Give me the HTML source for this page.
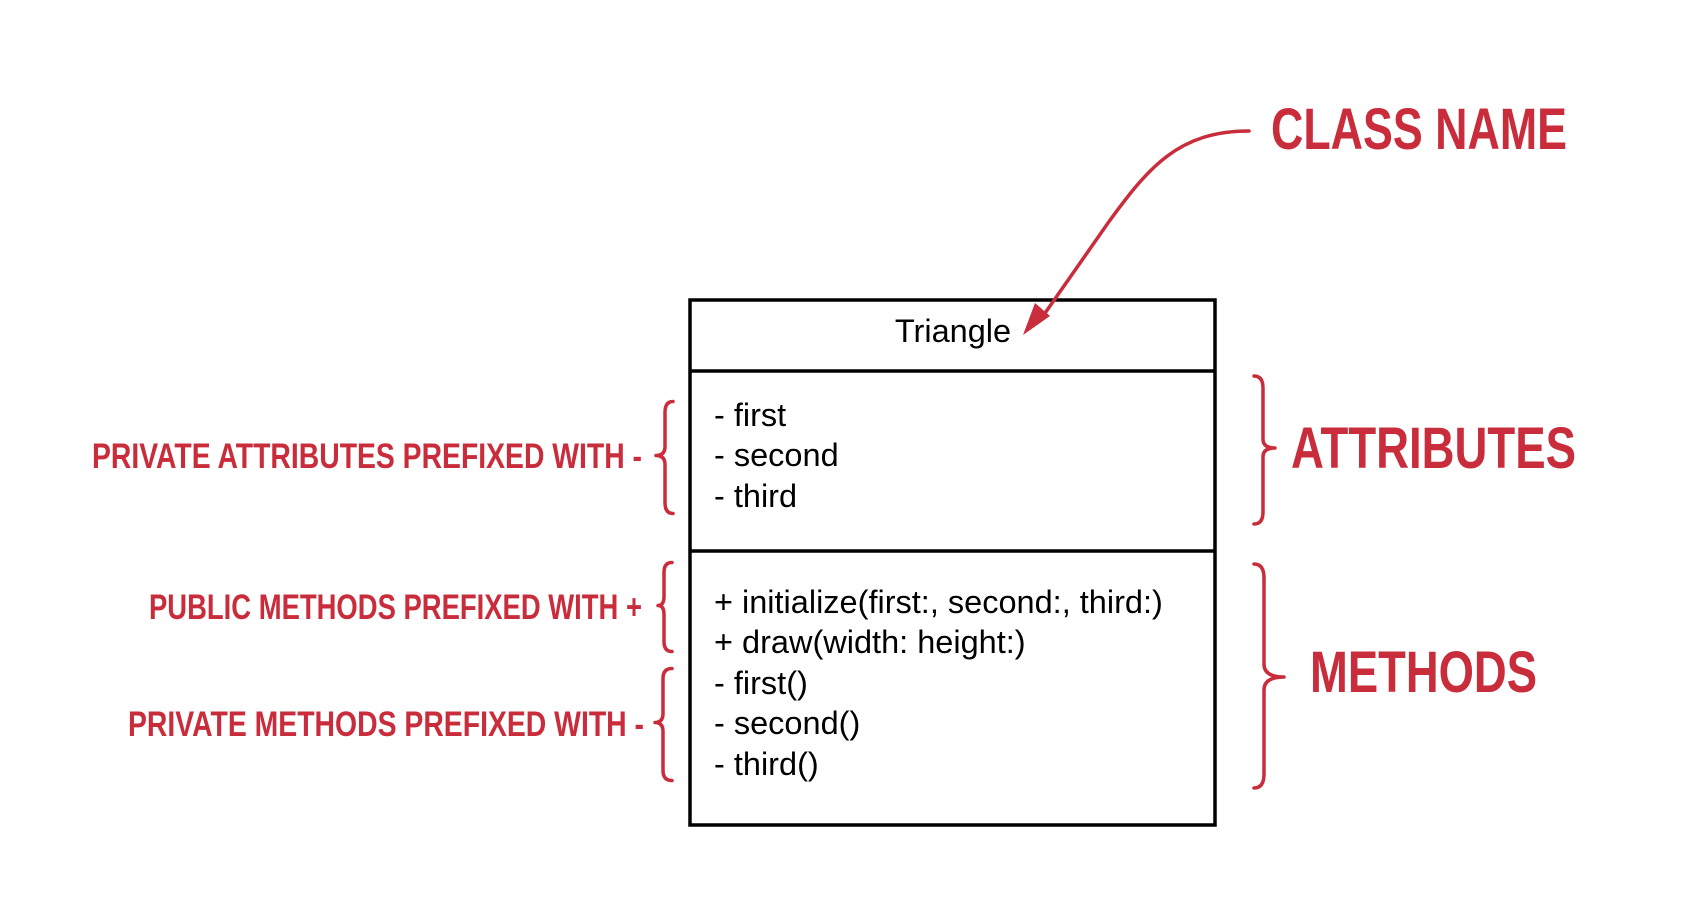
<!DOCTYPE html>
<html><head><meta charset="utf-8"><style>
html,body{margin:0;padding:0;background:#fff;}
svg{display:block;}
.h{font-family:"Liberation Sans",sans-serif;fill:#c92c3b;font-weight:bold;}
.b{font-family:"Liberation Sans",sans-serif;fill:#000;font-size:32.5px;}
.br{fill:none;stroke:#c92c3b;stroke-width:3.5;stroke-linecap:round;stroke-linejoin:round;}
</style></head><body>
<svg width="1703" height="900" viewBox="0 0 1703 900" xmlns="http://www.w3.org/2000/svg">
<rect x="690" y="300" width="525" height="525" fill="#fff" stroke="#000" stroke-width="3.5"/>
<line x1="690" y1="371" x2="1215" y2="371" stroke="#000" stroke-width="3.5"/>
<line x1="690" y1="551" x2="1215" y2="551" stroke="#000" stroke-width="3.5"/>
<text class="b" x="953" y="342" text-anchor="middle">Triangle</text>
<text class="b" x="714" y="426">- first</text>
<text class="b" x="714" y="466">- second</text>
<text class="b" x="714" y="507">- third</text>
<text class="b" x="714" y="613">+ initialize(first:, second:, third:)</text>
<text class="b" x="714" y="653">+ draw(width: height:)</text>
<text class="b" x="714" y="694">- first()</text>
<text class="b" x="714" y="734">- second()</text>
<text class="b" x="714" y="775">- third()</text>

<path class="br" d="M1261 133 C1190 133 1160 170 1120 225 L1055 318" transform="translate(-12,-2)"/>
<polygon points="1035,337 1047,305 1062,318" fill="#c92c3b" transform="translate(-12,-2)"/>

<text class="h" x="1271" y="149" font-size="58" textLength="296" lengthAdjust="spacingAndGlyphs">CLASS NAME</text>
<text class="h" x="1291" y="468" font-size="58" textLength="285" lengthAdjust="spacingAndGlyphs">ATTRIBUTES</text>
<text class="h" x="1310" y="692" font-size="58" textLength="227" lengthAdjust="spacingAndGlyphs">METHODS</text>
<text class="h" x="92" y="468" font-size="35" textLength="550" lengthAdjust="spacingAndGlyphs">PRIVATE ATTRIBUTES PREFIXED WITH -</text>
<text class="h" x="149" y="619" font-size="35" textLength="493" lengthAdjust="spacingAndGlyphs">PUBLIC METHODS PREFIXED WITH +</text>
<text class="h" x="128" y="736" font-size="35" textLength="516" lengthAdjust="spacingAndGlyphs">PRIVATE METHODS PREFIXED WITH -</text>

<g transform="translate(-5,-5.5)">
<path class="br" d="M678 407 Q670 407 670 418 L670 452 Q670 461 661 461 Q670 461 670 470 L670 508 Q670 519 678 519"/>
<path class="br" d="M677 568 Q669 568 669 578 L669 602 Q669 611 663 611 Q669 611 669 620 L669 647 Q669 657 677 657"/>
<path class="br" d="M677 674 Q668 674 668 684 L668 719 Q668 728 660 728 Q668 728 668 737 L668 776 Q668 786 677 786"/>
</g>
<g transform="translate(-12,-4)">
<path class="br" d="M1266 380 Q1275 380 1275 392 L1275 443 Q1275 452 1287 452 Q1275 452 1275 461 L1275 516 Q1275 528 1266 528"/>
<path class="br" d="M1266 568 Q1276 568 1276 582 L1276 668 Q1276 681 1296 681 Q1276 681 1276 694 L1276 778 Q1276 792 1266 792"/>
</g>
</svg>
</body></html>
